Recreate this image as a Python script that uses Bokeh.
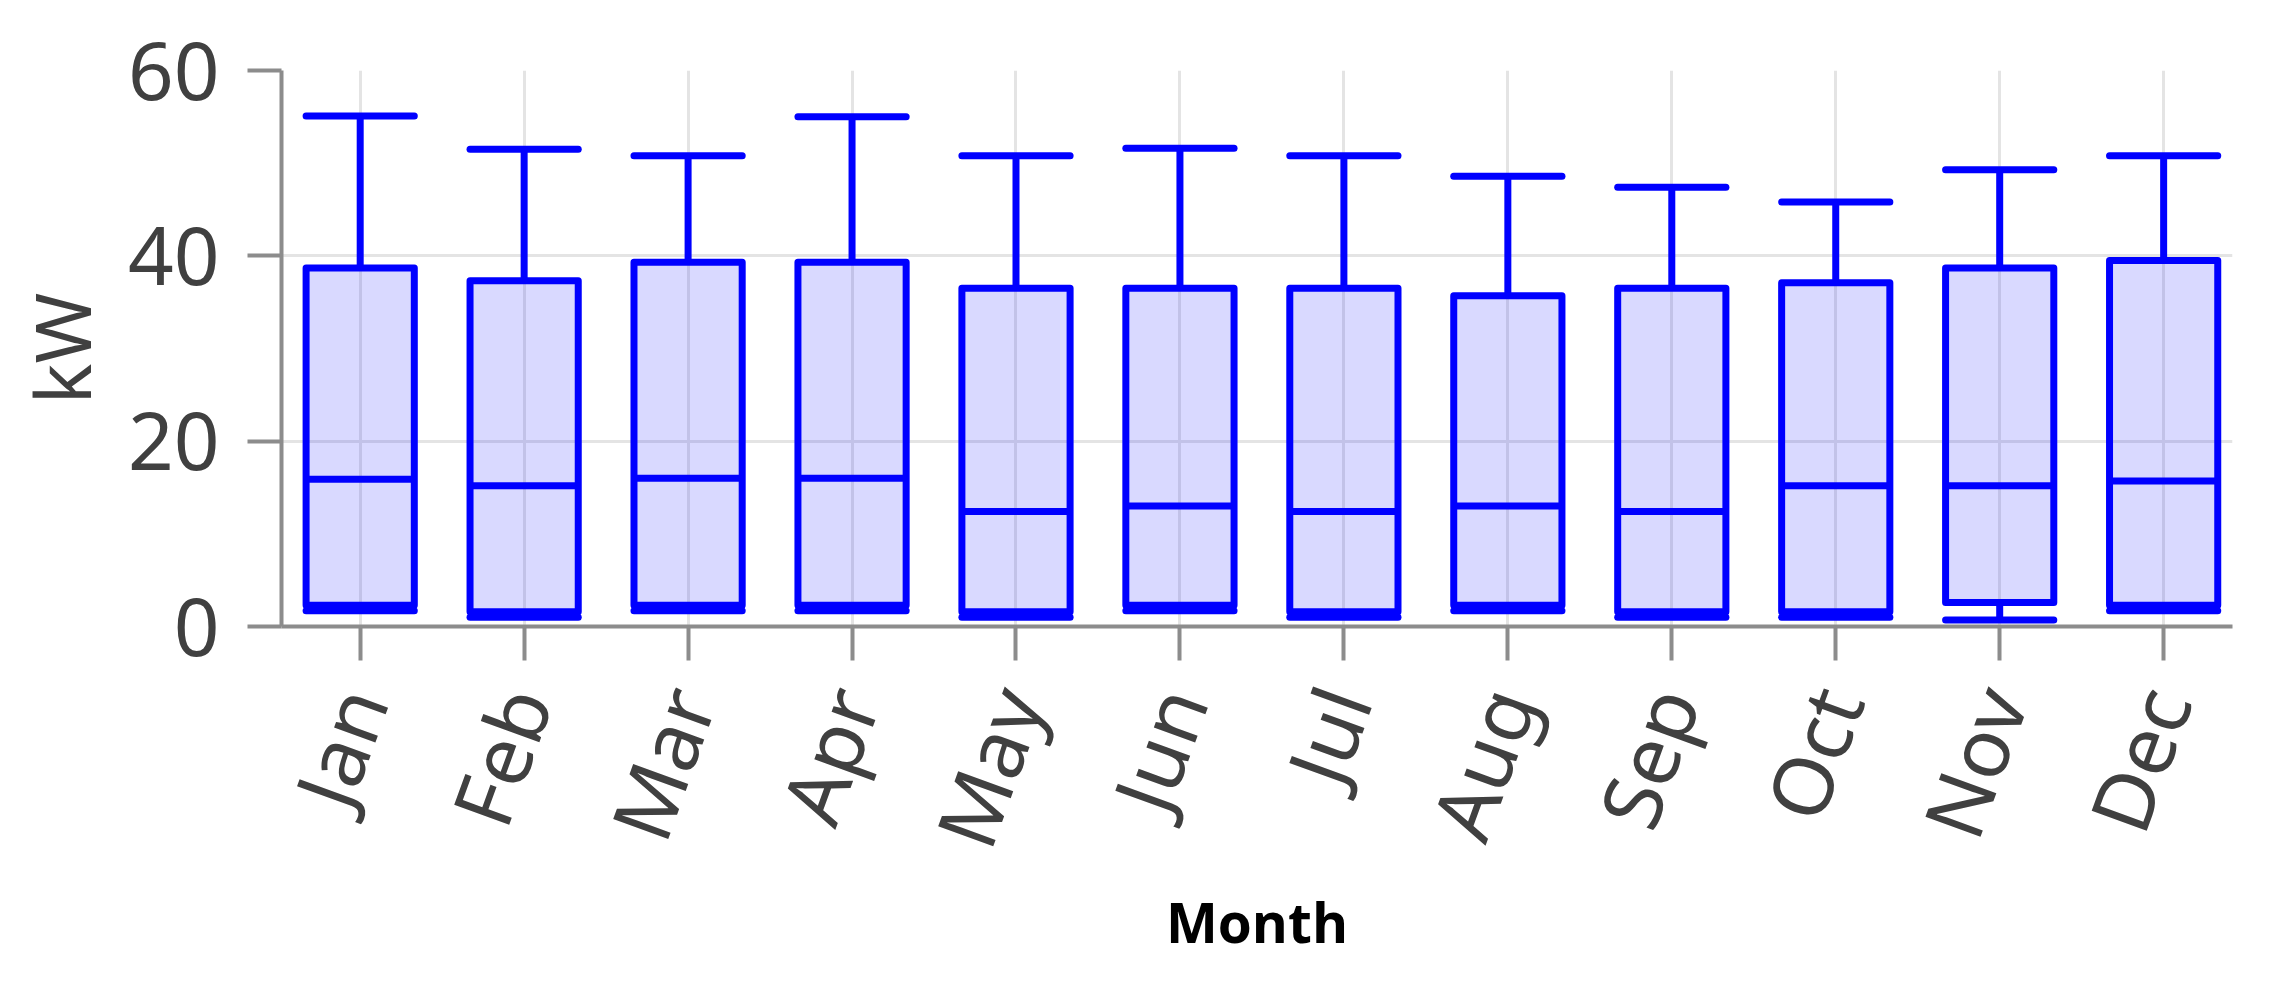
import numpy as np
from math import pi
from bokeh.plotting import figure
from bokeh.models import Range1d, FixedTicker, ColumnDataSource
from bokeh.embed import file_html
from bokeh.resources import INLINE

months = ["Jan", "Feb", "Mar", "Apr", "May", "Jun", "Jul", "Aug", "Sep", "Oct", "Nov", "Dec"]
upper = [55.1, 51.5, 50.8, 55.0, 50.8, 51.6, 50.8, 48.6, 47.4, 45.8, 49.3, 50.8]
q3 = [38.7, 37.3, 39.3, 39.3, 36.5, 36.5, 36.5, 35.7, 36.5, 37.1, 38.7, 39.5]
median = [15.9, 15.2, 16.0, 16.0, 12.4, 13.0, 12.4, 13.0, 12.4, 15.2, 15.2, 15.7]
q1 = [2.3, 1.6, 2.3, 2.3, 1.6, 2.3, 1.6, 2.3, 1.6, 1.6, 2.6, 2.3]
lower = [1.7, 1.0, 1.7, 1.7, 1.0, 1.7, 1.0, 1.7, 1.0, 1.0, 0.7, 1.7]
y_ticks = [0, 20, 40, 60]

xs = np.arange(len(months))
half = 0.33
src = ColumnDataSource(dict(
    x=xs, x0=xs - half, x1=xs + half,
    upper=upper, q3=q3, median=median, q1=q1, lower=lower,
))

p = figure(width=2254, height=972, output_backend="svg", toolbar_location=None,
           x_range=Range1d(-0.48, 11.42), y_range=Range1d(0, 60),
           min_border_left=281, min_border_right=22, min_border_top=70, min_border_bottom=346)
p.outline_line_color = None
p.background_fill_color = "white"
p.border_fill_color = "white"

BLUE = "#0000ff"
LW = 7
# whiskers
p.segment(x0="x", y0="q3", x1="x", y1="upper", source=src, line_color=BLUE, line_width=LW)
p.segment(x0="x", y0="lower", x1="x", y1="q1", source=src, line_color=BLUE, line_width=LW)
# caps
p.segment(x0="x0", y0="upper", x1="x1", y1="upper", source=src, line_color=BLUE, line_width=LW, line_cap="round")
p.segment(x0="x0", y0="lower", x1="x1", y1="lower", source=src, line_color=BLUE, line_width=LW, line_cap="round")
# boxes
p.vbar(x="x", width=2 * half, top="q3", bottom="q1", source=src,
       fill_color=BLUE, fill_alpha=0.15, line_color=BLUE, line_width=LW, line_join="round")
# medians
p.segment(x0="x0", y0="median", x1="x1", y1="median", source=src, line_color=BLUE, line_width=LW)

AX = "#8c8c8c"
for ax in (p.xaxis, p.yaxis):
    ax.axis_line_color = AX
    ax.axis_line_width = 4
    ax.major_tick_line_color = AX
    ax.major_tick_line_width = 4
    ax.major_tick_out = 34
    ax.major_tick_in = 0
    ax.minor_tick_line_color = None
    ax.major_label_text_font = "Noto Sans"
    ax.major_label_text_color = "#404040"

p.xaxis.ticker = FixedTicker(ticks=list(xs))
p.xaxis.major_label_overrides = {int(i): m for i, m in zip(xs, months)}
p.xaxis.major_label_orientation = 70 * pi / 180
p.xaxis.major_label_text_font_size = "82px"
p.xaxis.major_label_standoff = 30
p.xaxis.axis_label = "Month"
p.xaxis.axis_label_text_font = "Open Sans"
p.xaxis.axis_label_text_font_style = "bold"
p.xaxis.axis_label_text_font_size = "55px"
p.xaxis.axis_label_text_color = "black"
p.xaxis.axis_label_standoff = 0

p.yaxis.ticker = FixedTicker(ticks=y_ticks)
p.yaxis.major_label_text_font_size = "80px"
p.yaxis.major_label_standoff = 28
p.yaxis.axis_label = "kW"
p.yaxis.axis_label_text_font = "Noto Sans"
p.yaxis.axis_label_text_font_style = "normal"
p.yaxis.axis_label_text_font_size = "76px"
p.yaxis.axis_label_text_color = "#404040"
p.yaxis.axis_label_standoff = 12

p.xgrid.grid_line_color = "#e4e4e4"
p.xgrid.grid_line_width = 3
p.ygrid.grid_line_color = "#e4e4e4"
p.ygrid.grid_line_width = 3

open("out.html", "w").write(file_html(p, INLINE))
